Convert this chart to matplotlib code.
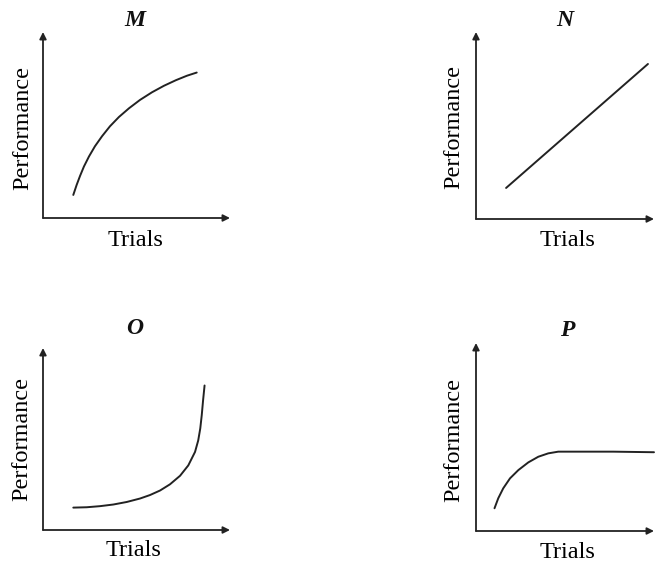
import matplotlib
matplotlib.use("Agg")
import matplotlib.pyplot as plt

plt.rcParams['font.family'] = ['Liberation Serif', 'DejaVu Serif']

W, H = 656, 566

# panel names
titles = ['M', 'N', 'O', 'P']

# curves (trials vs performance, arbitrary units 0-10)
m_x = [1.62, 1.80, 1.98, 2.19, 2.46, 2.78, 3.16, 3.58, 4.06, 4.60, 5.19,
       5.83, 6.47, 7.11, 7.70, 8.22]
m_y = [1.24, 1.78, 2.26, 2.77, 3.31, 3.86, 4.40, 4.93, 5.43, 5.90, 6.35,
       6.76, 7.11, 7.41, 7.65, 7.82]

n_x = [1.69, 9.66]
n_y = [1.66, 8.29]

o_x = [1.62, 2.34, 3.05, 3.76, 4.48, 5.19, 5.72, 6.26, 6.79, 7.33, 7.77,
       8.13, 8.30, 8.41, 8.49, 8.56, 8.64]
o_y = [1.23, 1.25, 1.31, 1.40, 1.54, 1.73, 1.92, 2.17, 2.51, 2.98, 3.55,
       4.29, 4.92, 5.58, 6.32, 7.12, 7.94]

p_x = [1.04, 1.25, 1.53, 1.91, 2.38, 2.94, 3.50, 4.06, 4.62, 5.84, 7.71, 10.0]
p_y = [1.21, 1.74, 2.27, 2.80, 3.24, 3.65, 3.95, 4.13, 4.22, 4.22, 4.22, 4.19]

curves = [(m_x, m_y), (n_x, n_y), (o_x, o_y), (p_x, p_y)]

# axes boxes in pixels: origin x, origin y, arrow tip top, arrow tip right
boxes = [(43, 218, 32, 230),
         (476, 219, 32, 654),
         (43, 530, 348, 230),
         (476, 531, 343, 654)]

# title / label centres in pixels
title_pos = [(135, 21), (565, 21), (135, 329), (567, 331)]
trials_pos = [(135, 240), (568, 241), (133, 551), (567, 553)]
perf_pos = [(23, 128), (454, 127), (22, 439), (454, 440)]


def fx(x, y):
    return x / W, 1 - y / H


fig = plt.figure(figsize=(W / 100, H / 100), dpi=100)

for i in range(4):
    ox, oy, ty, rx = boxes[i]
    ax = fig.add_axes([ox / W, 1 - oy / H, (rx - ox) / W, (oy - ty) / H])
    ax.set_xlim(0, 10)
    ax.set_ylim(0, 10)
    ax.axis('off')
    # axis arrows
    arr = dict(arrowstyle='-|>', color='#222222', lw=1.3,
               mutation_scale=10, shrinkA=0, shrinkB=0)
    ax.annotate('', xy=(1, 0), xytext=(0, 0), xycoords='axes fraction',
                arrowprops=arr, annotation_clip=False)
    ax.annotate('', xy=(0, 1), xytext=(0, 0), xycoords='axes fraction',
                arrowprops=arr, annotation_clip=False)
    x, y = curves[i]
    ax.plot(x, y, color='#222222', lw=1.4, clip_on=False,
            solid_joinstyle='round', solid_capstyle='round')

    tx, tyy = fx(*title_pos[i])
    fig.text(tx, tyy, titles[i], ha='center', va='center', fontsize=17,
             fontstyle='italic', fontweight='bold', color='#111111')
    tx, tyy = fx(*trials_pos[i])
    fig.text(tx, tyy, 'Trials', ha='center', va='center', fontsize=17.5,
             color='black')
    tx, tyy = fx(*perf_pos[i])
    fig.text(tx, tyy, 'Performance', ha='center', va='center', fontsize=17.5,
             rotation=90, color='black')

fig.savefig('out.png', dpi=100)
